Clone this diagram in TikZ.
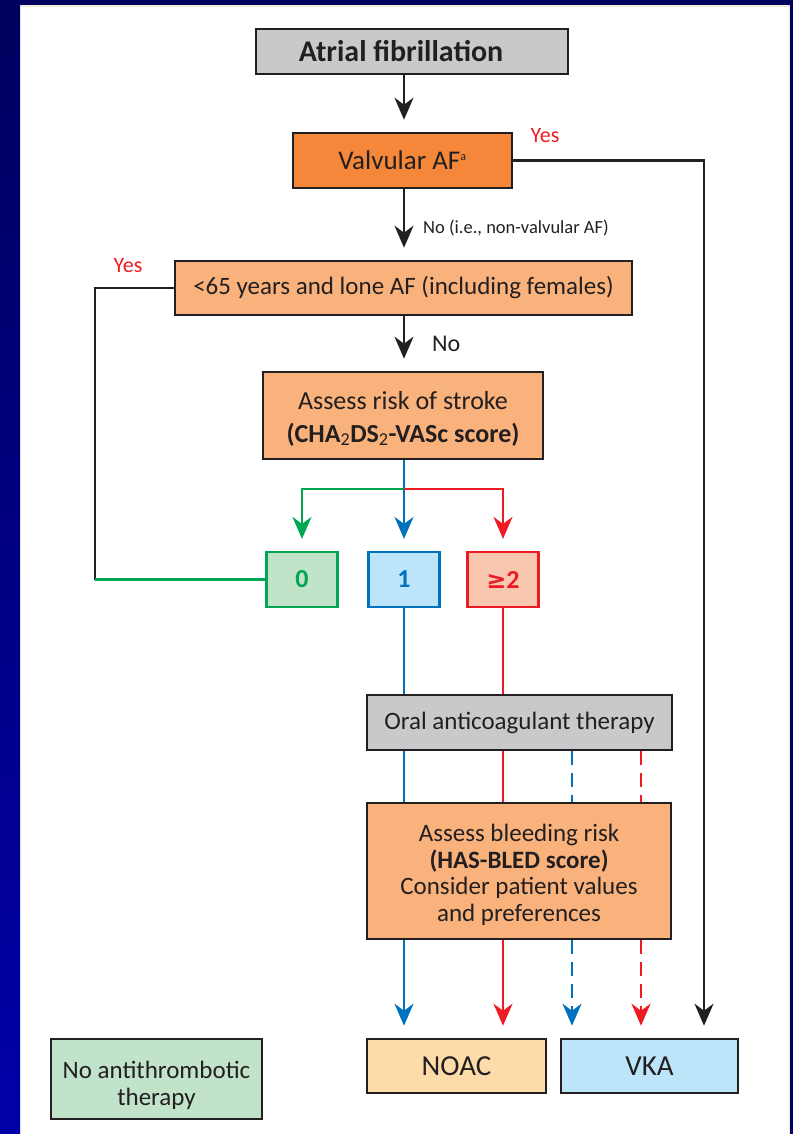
\documentclass[tikz,border=0pt]{standalone}
\usepackage{fontspec}
\setmainfont{Carlito}
\newfontfamily\symfont{DejaVu Sans}
\usetikzlibrary{arrows.meta}
\definecolor{ink}{HTML}{231F20}
\definecolor{boxgray}{HTML}{C8C9CB}
\definecolor{orangeD}{HTML}{F5873A}
\definecolor{orangeL}{HTML}{F9B27B}
\definecolor{greenF}{HTML}{C0E3C9}
\definecolor{greenL}{HTML}{00A651}
\definecolor{blueF}{HTML}{BCE5F9}
\definecolor{blueL}{HTML}{0072BC}
\definecolor{redF}{HTML}{F9C7B0}
\definecolor{redL}{HTML}{ED1C24}
\definecolor{noacF}{HTML}{FEDCAA}
\definecolor{navyA}{HTML}{00005E}
\definecolor{navyB}{HTML}{0000A8}
\definecolor{edge}{HTML}{EEEAE0}
\tikzset{
  box/.style={draw=ink, line width=2.6pt, rectangle, inner sep=0pt, align=center,
    text=ink, font=\fontsize{25}{30}\selectfont},
  score/.style={rectangle, line width=2.2pt, inner sep=0pt, minimum width=71pt,
    minimum height=55pt, font=\bfseries\fontsize{26}{30}\selectfont},
  conn/.style={line width=2.4pt},
  arr/.style={conn, -{Stealth[length=22pt,width=19pt,inset=7pt]}, shorten >=12pt},
  dsh/.style={dash pattern=on 14pt off 8pt},
  lbl/.style={inner sep=0pt, text=redL, font=\fontsize{22}{26}\selectfont}
}
\begin{document}
\begin{tikzpicture}[x=1pt,y=-1pt]
\useasboundingbox (0,0) rectangle (793,1134);
% frame
\fill[navyA] (0,0) rectangle (793,1134);
\fill[white] (20,7) rectangle (790,1134);
\fill[edge] (20,5) rectangle (790,7);
\fill[edge] (789,7) rectangle (790,1134);
\shade[top color=navyA, bottom color=navyB] (0,0) rectangle (20,1134);

% nodes
\node[box, fill=boxgray, minimum width=312pt, minimum height=45pt,
  font=\bfseries\fontsize{30}{34}\selectfont] (af) at (412,51.5) {Atrial fibrillation\hspace*{22pt}};
\node[box, fill=orangeD, minimum width=219pt, minimum height=55pt,
  font=\fontsize{27}{30}\selectfont] (valv) at (402.5,160.5)
  {Valvular AF\textsuperscript{\fontsize{12}{12}\selectfont a}};
\node[box, fill=orangeL, minimum width=457pt, minimum height=54pt] (lone) at (403.5,288)
  {<65 years and lone AF (including females)};
\node[box, fill=orangeL, minimum width=280pt, minimum height=87pt,
  font=\fontsize{26}{33}\selectfont] (stroke) at (403,415.5)
  {\rule{0pt}{24pt}Assess risk of stroke\\\textbf{(CHA\textsubscript{\mdseries 2}DS\textsubscript{\mdseries 2}-VASc score)}};
\node[score, draw=greenL, fill=greenF, text=greenL] (zero) at (302,579.5) {0};
\node[score, draw=blueL, fill=blueF, text=blueL] (one) at (404,579.5) {1};
\node[score, draw=redL, fill=redF, text=redL] (two) at (503,579.5) {{\symfont\bfseries\fontsize{24}{28}\selectfont ≥}2};
\node[box, fill=boxgray, minimum width=305pt, minimum height=55pt] (oral) at (519.5,722.5)
  {Oral anticoagulant therapy};
\node[box, fill=orangeL, minimum width=304pt, minimum height=136pt,
  font=\fontsize{25}{26.5}\selectfont] (bleed) at (519,871)
  {\rule{0pt}{25pt}Assess bleeding risk\\\textbf{(HAS-BLED score)}\\Consider patient values\\and preferences};
\node[box, fill=noacF, minimum width=179pt, minimum height=54pt,
  font=\fontsize{29}{30}\selectfont] (noac) at (456.5,1066) {NOAC};
\node[box, fill=blueF, minimum width=177pt, minimum height=54pt,
  font=\fontsize{29}{30}\selectfont] (vka) at (649.5,1066) {VKA};
\node[box, fill=greenF, minimum width=211pt, minimum height=80pt,
  font=\fontsize{25}{26.5}\selectfont] (none) at (156.5,1079)
  {\rule{0pt}{30pt}No antithrombotic\\therapy};

% labels
\node[lbl, anchor=center] (yes1) at (545,136) {Yes};
\node[lbl, anchor=center] (yes2) at (128,266) {Yes};
\node[inner sep=0pt, anchor=west, text=ink, font=\fontsize{18.5}{22}\selectfont] (nolbl1) at (423,228)
  {No (i.e., non-valvular AF)};
\node[inner sep=0pt, anchor=west, text=ink, font=\fontsize{24}{26}\selectfont] (nolbl2) at (432,344) {No};

% column coordinates
\coordinate (cM) at (404,0);
\coordinate (cDB) at (572,0);
\coordinate (cDR) at (641,0);
\coordinate (cK) at (704,0);
\coordinate (cL) at (95,0);
\coordinate (split) at (404,489);

% main trunk
\draw[arr, ink] (af.south -| cM) -- (valv.north -| cM);
\draw[arr, ink] (valv.south -| cM) -- (lone.north -| cM);
\draw[arr, ink] (lone.south -| cM) -- (stroke.north -| cM);
% valvular yes -> VKA
\draw[arr, ink] (valv.east) -| (vka.north -| cK);
% lone AF yes -> left
\draw[conn, ink] (lone.west) -| (zero.west -| cL);
\draw[conn, greenL] (zero.west -| cL) -- (zero.west);
% score branches
\draw[arr, blueL] (stroke.south -| cM) -- (one.north);
\draw[arr, greenL] (split) -| (zero.north);
\draw[arr, redL] (split) -| (two.north);
% blue solid
\draw[conn, blueL] (one.south) -- (oral.north -| one.south);
\draw[conn, blueL] (oral.south -| one.south) -- (bleed.north -| one.south);
\draw[arr, blueL] (bleed.south -| one.south) -- (noac.north -| one.south);
% red solid
\draw[conn, redL] (two.south) -- (oral.north -| two.south);
\draw[conn, redL] (oral.south -| two.south) -- (bleed.north -| two.south);
\draw[arr, redL] (bleed.south -| two.south) -- (noac.north -| two.south);
% dashed
\draw[conn, dsh, blueL] (oral.south -| cDB) -- (bleed.north -| cDB);
\draw[arr, dsh, blueL] (bleed.south -| cDB) -- (vka.north -| cDB);
\draw[conn, dsh, redL] (oral.south -| cDR) -- (bleed.north -| cDR);
\draw[arr, dsh, redL] (bleed.south -| cDR) -- (vka.north -| cDR);
\end{tikzpicture}
\end{document}
